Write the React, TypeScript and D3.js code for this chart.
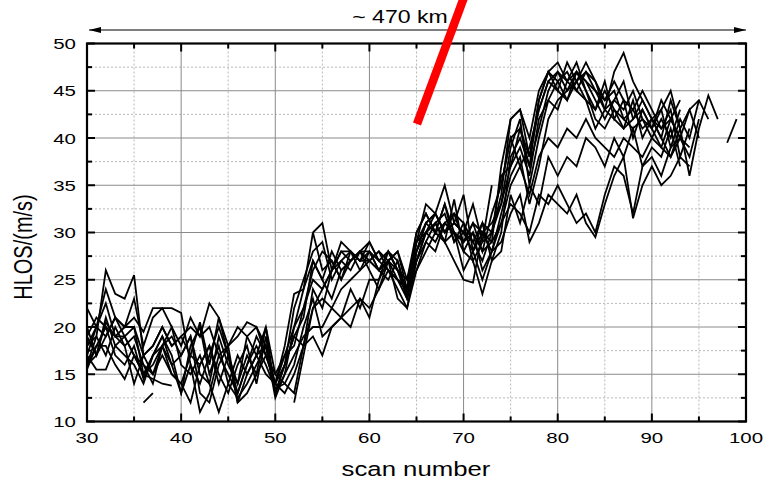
import React from "react";
import * as d3 from "d3";

// ---- data (HLOS per scan number, one array per profile) ----
const startScans = [30, 30, 30, 30, 30, 30, 30, 30, 30, 30, 30, 52, 74, 36, 98, 30, 54];

const s1 = [16, 19, 26, 23.5, 23, 25.5, 17, 18, 20, 18, 19, 17, 20.5, 16, 21, 17, 13, 16, 19, 17, 14, 17, 20, 24, 30, 26, 27, 25, 28, 27, 28, 26, 27, 25, 23, 28, 31, 30, 33, 29, 31, 27, 29, 30, 33, 39, 42, 35, 40, 44, 46, 47, 45, 47, 46, 44, 45, 42, 43, 41, 42, 40, 44, 41, 43, 40];
const s2 = [18, 20, 24, 21, 20, 23, 18, 21, 22, 22, 21.5, 16, 14, 17, 20, 17, 14, 19, 20, 18, 13, 16, 22, 25, 28, 29, 25, 27, 28, 26, 27, 28, 26, 24, 22, 27, 30, 31, 29, 33.5, 28, 30, 26, 28, 32, 36, 38, 33, 37, 42, 44, 45, 47, 46, 44, 42, 44, 43, 45, 42, 41, 43, 39, 42, 40, 44];
const s3 = [20, 17, 19, 21, 19, 20, 15, 17, 19, 16, 13, 18, 20, 15, 18, 14, 17, 15, 17, 20, 15, 14, 13, 18, 24, 22, 26, 28, 27, 28, 29, 27, 28, 26, 24, 29, 30, 32, 30, 31, 34, 28, 31, 27, 30, 38, 40, 37, 41, 45, 47, 46, 48, 45, 43, 45, 43, 41, 42, 44, 42, 41, 43, 38, 41];
const s4 = [17, 15.5, 15.5, 18, 17, 16, 14, 17, 18, 15, 14, 12, 16, 18, 15, 13, 16, 18, 14, 19, 13, 15, 17, 19, 20, 20, 22, 21, 24, 22, 25, 25, 28, 26, 23, 27, 29, 28, 31, 30, 26, 28, 25, 28, 31, 33, 32, 30, 34, 33, 35, 33, 31, 32, 30, 34, 37, 36, 32, 37, 38, 36, 39, 40, 38, 42];
const s5 = [19, 21, 20, 19, 18, 14, 17, 15, 18, 16, 17, 19, 13, 12, 16, 18, 12, 15, 17, 15, 14, 16, 19, 18, 19, 17, 20, 21, 20, 23, 22, 24, 26, 25, 24, 26, 28, 30, 29, 27, 25, 24.7, 30, 28, 29, 32, 34, 29, 31, 34, 33, 32, 34, 31, 29.5, 33, 36, 38, 31.5, 35, 37, 35, 36, 38, 37];
const s6 = [22, 20, 22.5, 19, 20, 21, 19.5, 22, 22, 20, 18, 21, 19, 22.5, 21, 18, 20, 19, 17, 18, 14, 18, 23.5, 24, 27, 25, 23, 26, 27, 28, 26, 24, 27, 28, 25, 30, 32, 30, 33, 30, 29, 31, 28, 32, 35, 40, 37, 39, 43, 46, 45, 44, 46, 44, 43, 46, 42, 44, 40, 43, 41, 39, 42, 40];
const s7 = [18, 19, 17, 20, 18, 19, 16, 14, 18, 20, 16, 15, 17, 14, 11, 14, 12.5, 14, 16, 18, 12.5, 15, 20, 22, 26, 28, 27, 25, 27, 28, 28, 26, 25, 27, 23.5, 28, 31, 32, 30, 31, 30, 29, 27, 30, 36, 37, 41, 38, 44, 47, 46, 44, 47, 45, 42, 41, 43, 42, 41, 42, 40, 42, 40, 43];
const s8 = [16, 18, 20, 17, 16, 18, 14.5, 17, 19, 17, 13, 16, 11, 13, 17, 15, 13, 16, 18, 16, 13.5, 14, 16, 20, 23, 19, 20, 21, 22, 23, 21, 25, 27, 23, 22, 26, 29, 31, 29, 30, 28, 27, 23.5, 27, 28, 34, 31, 35, 33, 38, 36, 38, 37, 40, 39, 37, 40, 38, 41, 37, 39, 38, 41, 37];
const s9 = [17, 20, 19, 21, 20, 20, 17, 18, 20, 18, 19, 20, 19, 20, 17, 18, 19, 20.5, 20, 17, 15, 17, 18, 22, 25, 24, 26, 28, 28, 27, 27, 28, 27, 26, 24, 29, 31, 32, 30, 32, 31, 29, 31, 30, 34, 42, 43, 40, 45, 47, 48, 46, 47, 46, 45, 44, 46, 44, 43, 45, 43, 41, 42, 44];
const s10 = [19, 17, 21, 18, 19, 17, 15, 16, 18, 19, 17, 19, 15, 14, 19, 16, 14, 17, 15, 20, 13, 16, 19, 21, 27, 25, 28, 26, 27, 28, 27, 26, 28, 27, 23, 28, 30, 31, 32, 29, 30, 28, 30, 31, 33, 37, 39, 36, 42, 44, 43, 46, 45, 44, 41, 43, 42, 41, 44, 40, 42, 40, 38, 41];
const s11 = [15.5, 18, 18, 16, 14.5, 17, 16, 15, 17, 15, 14, 17, 16, 18, 14, 17, 12, 13, 15, 17, 14, 13, 15, 18, 22, 23, 22, 24, 25, 26, 28, 27, 26, 25, 24, 27, 30, 29, 31, 30, 29, 30, 28, 29, 31, 35, 37, 34, 38, 40, 39, 41, 40, 42, 40, 39, 38, 40, 39, 38, 40, 39, 38, 40, 39];
const s12 = [12, 17, 22, 24, 26, 27, 26, 28, 27, 26, 27, 28, 24, 30, 32, 30, 31, 32, 29, 31, 30, 29, 37, 42, 43, 38, 43, 46, 47, 45, 46, 48, 46, 43, 44, 46, 42, 43, 41, 44, 42, 40, 43, 44, 42];
const s13 = [35, 40, 41, 37, 44, 47, 45, 48, 46, 47, 45, 43, 47, 49, 46, 44, 42, 43, 45, 41, 36, 41, 44.5, 42];
const s14 = [12, 13];
const s15 = [39.5, 42];
const s16 = [16, 17, 20.5, 19, 19, 17, 15, 14.5, 14, 13.8];
const s17 = [30, 31, 26, 29, 28, 27, 29, 27, 28, 26, 25, 29, 33, 32, 35, 31, 30, 33, 29, 35];
const profiles = [s1, s2, s3, s4, s5, s6, s7, s8, s9, s10, s11, s12, s13, s14, s15, s16, s17];

const xTicks = [30, 40, 50, 60, 70, 80, 90, 100];
const yTicks = [10, 15, 20, 25, 30, 35, 40, 45, 50];
const xMinor = [35, 45, 55, 65, 75, 85, 95];
const yMinor = [12.5, 17.5, 22.5, 27.5, 32.5, 37.5, 42.5, 47.5];
const xTitle = "scan number";
const yTitle = "HLOS/(m/s)";
const spanLabel = "~ 470 km";

const W = 764, H = 479;
const M = { left: 87, right: 746, top: 43.5, bottom: 421.5 };
const FONT = "'Liberation Sans', Arial, sans-serif";
const SX = 1.32;

export default function App() {
  const x = d3.scaleLinear().domain([30, 100]).range([M.left, M.right]);
  const y = d3.scaleLinear().domain([10, 50]).range([M.bottom, M.top]);
  const line = d3
    .line<[number, number]>()
    .x((d) => x(d[0]))
    .y((d) => y(d[1]));

  const tickMajor = 8, tickMinor = 5;

  return (
    <svg
      width={W}
      height={H}
      style={{ position: "absolute", left: 0, top: 0, background: "#fff" }}
      fontFamily={FONT}
    >
      <defs>
        <marker id="ah" viewBox="0 0 12 6" refX="12" refY="3" markerWidth="12" markerHeight="6" orient="auto-start-reverse" markerUnits="userSpaceOnUse">
          <path d="M0,0 L12,3 L0,6 Z" fill="#000" />
        </marker>
        <clipPath id="clip">
          <rect x={M.left} y={M.top} width={M.right - M.left} height={M.bottom - M.top} />
        </clipPath>
      </defs>
      <rect width={W} height={H} fill="#fff" />
      {/* minor grid */}
      {xMinor.map((v) => (
        <line key={"xm" + v} x1={x(v)} x2={x(v)} y1={M.top} y2={M.bottom} stroke="#b8b8b8" strokeWidth={1} strokeDasharray="2,2" />
      ))}
      {yMinor.map((v) => (
        <line key={"ym" + v} x1={M.left} x2={M.right} y1={y(v)} y2={y(v)} stroke="#b8b8b8" strokeWidth={1} strokeDasharray="2,2" />
      ))}
      {/* major grid */}
      {xTicks.map((v) => (
        <line key={"xg" + v} x1={x(v)} x2={x(v)} y1={M.top} y2={M.bottom} stroke="#8a8a8a" strokeWidth={1} />
      ))}
      {yTicks.map((v) => (
        <line key={"yg" + v} x1={M.left} x2={M.right} y1={y(v)} y2={y(v)} stroke="#8a8a8a" strokeWidth={1} />
      ))}
      {/* data */}
      <g clipPath="url(#clip)">
        {profiles.map((vals, i) => {
          const pts: [number, number][] = vals.map((v, j) => [startScans[i] + j, v]);
          return <path key={i} d={line(pts) || ""} fill="none" stroke="#000" strokeWidth={1.8} strokeLinejoin="miter" strokeMiterlimit={4} />;
        })}
      </g>
      {/* ticks */}
      {xTicks.concat(xMinor).map((v) => {
        const L = xTicks.includes(v) ? tickMajor : tickMinor;
        return (
          <g key={"xt" + v}>
            <line x1={x(v)} x2={x(v)} y1={M.bottom} y2={M.bottom - L} stroke="#000" strokeWidth={2} />
            <line x1={x(v)} x2={x(v)} y1={M.top} y2={M.top + L} stroke="#000" strokeWidth={2} />
          </g>
        );
      })}
      {yTicks.concat(yMinor).map((v) => {
        const L = yTicks.includes(v) ? tickMajor : tickMinor;
        return (
          <g key={"yt" + v}>
            <line x1={M.left} x2={M.left + L} y1={y(v)} y2={y(v)} stroke="#000" strokeWidth={2} />
            <line x1={M.right} x2={M.right - L} y1={y(v)} y2={y(v)} stroke="#000" strokeWidth={2} />
          </g>
        );
      })}
      {/* frame */}
      <rect x={M.left} y={M.top} width={M.right - M.left} height={M.bottom - M.top} fill="none" stroke="#000" strokeWidth={2.2} />
      {/* tick labels */}
      {xTicks.map((v) => (
        <text key={"xl" + v} transform={`translate(${x(v)},443) scale(${SX},1)`} textAnchor="middle" fontSize={15.5} fill="#000">
          {v}
        </text>
      ))}
      {yTicks.map((v) => (
        <text key={"yl" + v} transform={`translate(76,${y(v) + 5.5}) scale(${SX},1)`} textAnchor="end" fontSize={15.5} fill="#000">
          {v}
        </text>
      ))}
      {/* axis titles */}
      <text transform={`translate(416,476) scale(${SX},1)`} textAnchor="middle" fontSize={19.5} fill="#000">
        {xTitle}
      </text>
      <text transform={`translate(32,247) rotate(-90) scale(1,${SX})`} textAnchor="middle" fontSize={20} fill="#000">
        {yTitle}
      </text>
      {/* span arrow */}
      <line x1={89} x2={746} y1={30} y2={30} stroke="#000" strokeWidth={1.2} markerStart="url(#ah)" markerEnd="url(#ah)" />
      <text transform={`translate(400,23) scale(${SX},1)`} textAnchor="middle" fontSize={17.5} fill="#000">
        {spanLabel}
      </text>
      {/* red marker */}
      <line x1={417} y1={124} x2={466} y2={-8} stroke="#ff0000" strokeWidth={8.5} />
    </svg>
  );
}
